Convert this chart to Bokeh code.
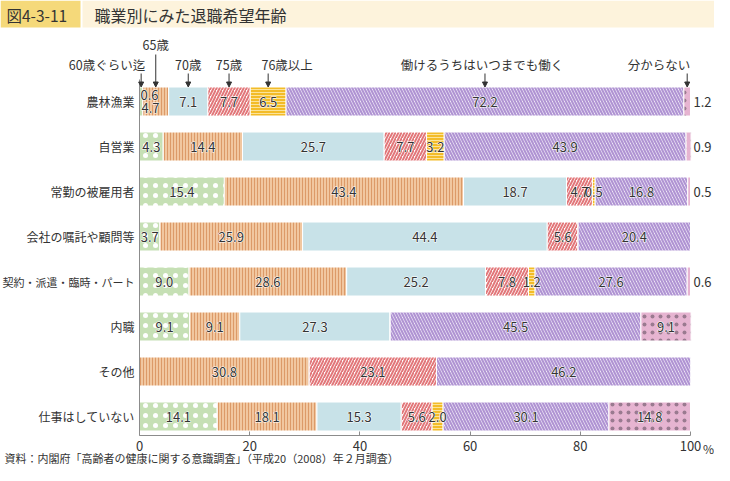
import numpy as np
from bokeh.plotting import figure
from bokeh.models import ColumnDataSource, LinearAxis, FixedTicker, Range1d, Arrow, NormalHead
from bokeh.core.properties import value
from bokeh.embed import file_html
from bokeh.resources import INLINE

# ---------------- data ----------------
categories = ["農林漁業", "自営業", "常勤の被雇用者", "会社の嘱託や顧問等",
              "契約・派遣・臨時・パート", "内職", "その他", "仕事はしていない"]
series_names = ["60歳ぐらい迄", "65歳", "70歳", "75歳", "76歳以上",
                "働けるうちはいつまでも働く", "分からない"]
age60 = [0.6, 4.3, 15.4, 3.7, 9.0, 9.1, 0.0, 14.1]
age65 = [4.7, 14.4, 43.4, 25.9, 28.6, 9.1, 30.8, 18.1]
age70 = [7.1, 25.7, 18.7, 44.4, 25.2, 27.3, 0.0, 15.3]
age75 = [7.7, 7.7, 4.7, 5.6, 7.8, 0.0, 23.1, 5.6]
age76 = [6.5, 3.2, 0.5, 0.0, 1.2, 0.0, 0.0, 2.0]
always = [72.2, 43.9, 16.8, 20.4, 27.6, 45.5, 46.2, 30.1]
unknown = [1.2, 0.9, 0.5, 0.0, 0.6, 9.1, 0.0, 14.8]
x_ticks = [0, 20, 40, 60, 80, 100]
x_tick_labels = ["0", "20", "40", "60", "80", "100"]
title_no = "図4-3-11"
title = "職業別にみた退職希望年齢"
source_note = "資料：内閣府「高齢者の健康に関する意識調査」（平成20（2008）年２月調査）"

series = [age60, age65, age70, age75, age76, always, unknown]
keys = ["s0", "s1", "s2", "s3", "s4", "s5", "s6"]

# ---------------- geometry (canvas px -> data) ----------------
W, H = 714, 465
SX = 5.51          # px per percent
ROW = 45.0         # px per row
ROW0 = 101.0       # centre of first row, px from top
def X(px):
    return (px - 139) / SX
def Y(py):
    return (py - ROW0) / ROW

FONT = value("Noto Sans CJK JP")
DARK = "#333333"

p = figure(width=W, height=H, output_backend="svg", toolbar_location=None,
           x_range=Range1d(X(0), X(W)), y_range=Range1d(Y(H), Y(0)),
           x_axis_location=None, y_axis_location=None, tools="")
p.min_border = 0
p.min_border_left = p.min_border_right = p.min_border_top = p.min_border_bottom = 0
p.outline_line_color = None
p.xgrid.visible = False
p.ygrid.visible = False
p.background_fill_color = "white"
p.border_fill_color = "white"

# header
p.quad(left=[X(0)], right=[X(80)], top=[Y(0)], bottom=[Y(27)], fill_color="#f5d97a", line_color=None)
p.quad(left=[X(82)], right=[X(W)], top=[Y(0)], bottom=[Y(27)], fill_color="#fdf3dc", line_color=None)
p.text(x=[X(6)], y=[Y(14)], text=[title_no], text_font=FONT, text_font_size="15.5px",
       text_color=DARK, text_align="left", text_baseline="middle")
p.text(x=[X(94)], y=[Y(14)], text=[title], text_font=FONT, text_font_size="16px",
       text_color=DARK, text_align="left", text_baseline="middle")

# bars
data = {"row": list(range(len(categories)))}
for k, s in zip(keys, series):
    data[k] = s
src = ColumnDataSource(data)

fills = ["#c6e0b5", "#f1c7a0", "#c8e2e8", "#ffffff", "#f3bc28", "#ffffff", "#e6b4d1"]
hatches = ["dot", "vertical_line", " ", "right_diagonal_line", "horizontal_line", "left_diagonal_line", "dot"]
hcolors = ["#ffffff", "#dc9a68", "#c8e2e8", "#e2777a", "#fbe39a", "#b094d3", "#9a7a90"]
hscales = [10, 3, 4, 6, 3, 6, 8]
hweights = [0.6, 1.0, 1.0, 2.0, 1.0, 2.2, 0.5]

p.hbar_stack(keys, y="row", height=29 / ROW, source=src,
             fill_color=fills, hatch_pattern=hatches, hatch_color=hcolors,
             hatch_scale=hscales, hatch_weight=hweights,
             line_color="white", line_width=1)

# value labels
arr = np.array(series)            # shape (7, 8)
cum = np.cumsum(arr, axis=0)
lefts = cum - arr
c_x, c_y, c_t = [], [], []
l_x, l_y, l_t, l_yo, l_xo = [], [], [], [], []
for i in range(len(categories)):
    for j in range(len(series)):
        v = arr[j, i]
        if v == 0:
            continue
        txt = f"{v:.1f}"
        if j == 6 and v < 5:
            l_x.append(100.0); l_y.append(i); l_t.append(txt); l_yo.append(0); l_xo.append(3)
        elif i == 0 and j in (0, 1):
            l_x.append(0.0); l_y.append(i); l_t.append(txt)
            l_yo.append(-7 if j == 0 else 6); l_xo.append(1 if j == 0 else 2)
        else:
            c_x.append(lefts[j, i] + v / 2); c_y.append(i); c_t.append(txt)

csrc = ColumnDataSource(dict(x=c_x, y=c_y, t=c_t))
lsrc = ColumnDataSource(dict(x=l_x, y=l_y, t=l_t, yo=l_yo, xo=l_xo))
base = dict(text_font=FONT, text_font_size="13px", text_baseline="middle")
# white halo underneath, dark text on top
p.text(x="x", y="y", text="t", source=csrc, text_align="center",
       text_color="white", text_outline_color="white", **base)
p.text(x="x", y="y", text="t", source=csrc, text_align="center",
       text_color=DARK, **base)
inner = dict(x="x", y="y", text="t", y_offset="yo", x_offset="xo", source=lsrc, text_align="left")
p.text(**inner, text_color="white", text_outline_color="white", **base)
p.text(**inner, text_color=DARK, **base)

# row labels (category names)
row_sizes = ["12px" if len(c) < 10 else "11px" for c in categories]
p.text(x=[0] * len(categories), y=list(range(len(categories))), text=categories,
       x_offset=-5, text_font=FONT, text_font_size=row_sizes, text_color=DARK,
       text_align="right", text_baseline="middle")

# legend annotations with arrows (point to the middle of each segment of the first row)
centers0 = lefts[:, 0] + arr[:, 0] / 2
leg_dx = [4, 0, 0, 0, 19, -3, 3]
leg_y = [64, 44, 64, 64, 64, 64, 64]
leg_align = ["right", "center", "center", "center", "center", "center", "right"]
arrow_top = [73, 54, 73, 73, 73, 73, 73]
bar_top = ROW0 - 14.5
for j in range(len(series)):
    cx = centers0[j]
    p.add_layout(Arrow(x_start=cx, y_start=Y(arrow_top[j]), x_end=cx, y_end=Y(bar_top),
                       line_color=DARK, line_width=1,
                       end=NormalHead(size=5, fill_color=DARK, line_color=DARK)))
    p.text(x=[cx], y=[Y(leg_y[j])], text=[series_names[j]], x_offset=leg_dx[j],
           text_font=FONT, text_font_size="12.5px", text_color=DARK,
           text_align=leg_align[j], text_baseline="middle")

# axes
axis_y = ROW0 + 7 * ROW + 19
xaxis = LinearAxis(fixed_location=Y(axis_y), bounds=(0, 100),
                   ticker=FixedTicker(ticks=x_ticks),
                   major_label_overrides={t: l for t, l in zip(x_ticks, x_tick_labels)})
xaxis.major_tick_in = 4
xaxis.major_tick_out = 0
xaxis.minor_tick_line_color = None
xaxis.axis_line_color = "#8c8c8c"
xaxis.major_tick_line_color = "#8c8c8c"
xaxis.major_label_text_font = "Noto Sans CJK JP"
xaxis.major_label_text_font_size = "13px"
xaxis.major_label_text_color = DARK
xaxis.major_label_standoff = 5
p.add_layout(xaxis, "below")

yaxis = LinearAxis(fixed_location=0, bounds=(Y(79), Y(axis_y)), ticker=FixedTicker(ticks=[]))
yaxis.axis_line_color = "#8c8c8c"
yaxis.major_tick_line_color = None
yaxis.minor_tick_line_color = None
yaxis.major_label_text_font_size = "0px"
p.add_layout(yaxis, "left")

p.text(x=[100], y=[Y(axis_y + 13)], text=["%"], x_offset=18, text_font=FONT, text_font_size="12px",
       text_color=DARK, text_align="center", text_baseline="middle")

# source note
p.text(x=[X(4)], y=[Y(457)], text=[source_note], text_font=FONT, text_font_size="11px",
       text_color=DARK, text_align="left", text_baseline="middle")

open("out.html", "w").write(file_html(p, INLINE))
